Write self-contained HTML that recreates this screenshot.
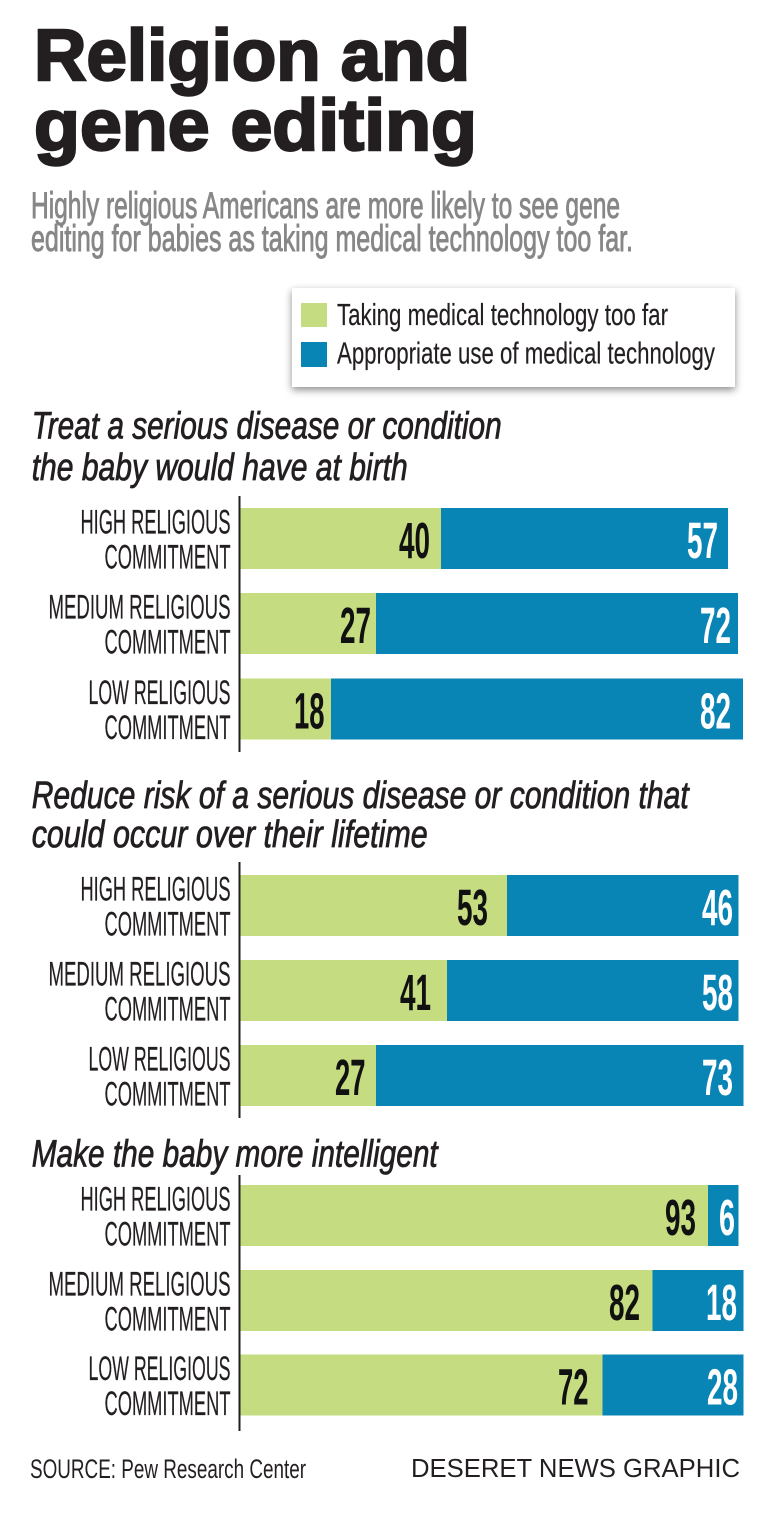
<!DOCTYPE html>
<html>
<head>
<meta charset="utf-8">
<style>
  html, body { margin: 0; padding: 0; background: #ffffff; }
  svg { display: block; }
  .title { font-family: "Liberation Sans", sans-serif; font-weight: bold; fill: #231f20; stroke: #231f20; stroke-width: 2.4; }
  .sub { font-family: "Liberation Sans", sans-serif; fill: #878787; stroke: #878787; stroke-width: 0.9; }
  .head { font-family: "Liberation Sans", sans-serif; font-style: italic; fill: #231f20; stroke: #231f20; stroke-width: 0.8; }
  .lab { font-family: "Liberation Sans", sans-serif; fill: #231f20; stroke: #231f20; stroke-width: 0.2; }
  .num { font-family: "Liberation Sans", sans-serif; font-weight: bold; }
  .blk { fill: #111111; }
  .wht { fill: #ffffff; }
  .leg { font-family: "Liberation Sans", sans-serif; fill: #231f20; stroke: #231f20; stroke-width: 0.2; }
  .foot { font-family: "Liberation Sans", sans-serif; fill: #231f20; }
</style>
</head>
<body>
<svg width="768" height="1521" viewBox="0 0 768 1521" xmlns="http://www.w3.org/2000/svg">
  <defs>
    <filter id="sh" x="-10%" y="-20%" width="120%" height="150%">
      <feDropShadow dx="0" dy="3" stdDeviation="4" flood-color="#000" flood-opacity="0.45"/>
    </filter>
  </defs>
  <rect width="768" height="1521" fill="#ffffff"/>

  <!-- Title -->
  <text class="title" x="34" y="80" font-size="72" textLength="436" lengthAdjust="spacingAndGlyphs">Religion and</text>
  <text class="title" x="34" y="150" font-size="72" textLength="443" lengthAdjust="spacingAndGlyphs">gene editing</text>

  <!-- Subtitle -->
  <text class="sub" x="31" y="218" font-size="37" textLength="589" lengthAdjust="spacingAndGlyphs">Highly religious Americans are more likely to see gene</text>
  <text class="sub" x="31" y="251" font-size="37" textLength="602" lengthAdjust="spacingAndGlyphs">editing for babies as taking medical technology too far.</text>

  <!-- Legend -->
  <rect x="292" y="288" width="443" height="99" fill="#ffffff" filter="url(#sh)"/>
  <rect x="301" y="303" width="26" height="24" fill="#c5dc81"/>
  <rect x="301" y="342" width="26" height="25" fill="#0884b5"/>
  <text class="leg" x="337" y="325" font-size="31" textLength="331" lengthAdjust="spacingAndGlyphs">Taking medical technology too far</text>
  <text class="leg" x="337" y="363.5" font-size="31" textLength="378" lengthAdjust="spacingAndGlyphs">Appropriate use of medical technology</text>

  <!-- Section 1 heading -->
  <text class="head" x="31.7" y="438.3" font-size="38" textLength="470" lengthAdjust="spacingAndGlyphs">Treat a serious disease or condition</text>
  <text class="head" x="31.7" y="480" font-size="38" textLength="376" lengthAdjust="spacingAndGlyphs">the baby would have at birth</text>

  <!-- Section 1 axis -->
  <rect x="238.5" y="496" width="2" height="256" fill="#231f20"/>

  <!-- Section 1 bars -->
  <rect x="240.5" y="508" width="200.5" height="61" fill="#c5dc81"/>
  <rect x="441" y="508" width="287" height="61" fill="#0884b5"/>
  <rect x="240.5" y="593" width="135.5" height="61" fill="#c5dc81"/>
  <rect x="376" y="593" width="362" height="61" fill="#0884b5"/>
  <rect x="240.5" y="678.5" width="90.5" height="61" fill="#c5dc81"/>
  <rect x="331" y="678.5" width="412" height="61" fill="#0884b5"/>

  <!-- Section 1 labels -->
  <text class="lab" x="80.5" y="533.5" font-size="34" textLength="150" lengthAdjust="spacingAndGlyphs">HIGH RELIGIOUS</text>
  <text class="lab" x="104.5" y="568.5" font-size="34" textLength="126" lengthAdjust="spacingAndGlyphs">COMMITMENT</text>
  <text class="lab" x="48.5" y="618.5" font-size="34" textLength="182" lengthAdjust="spacingAndGlyphs">MEDIUM RELIGIOUS</text>
  <text class="lab" x="104.5" y="653.5" font-size="34" textLength="126" lengthAdjust="spacingAndGlyphs">COMMITMENT</text>
  <text class="lab" x="88.5" y="704" font-size="34" textLength="142" lengthAdjust="spacingAndGlyphs">LOW RELIGIOUS</text>
  <text class="lab" x="104.5" y="739" font-size="34" textLength="126" lengthAdjust="spacingAndGlyphs">COMMITMENT</text>

  <!-- Section 1 numbers -->
  <text class="num blk" x="399" y="558" font-size="51" textLength="31" lengthAdjust="spacingAndGlyphs">40</text>
  <text class="num wht" x="687" y="558" font-size="51" textLength="31" lengthAdjust="spacingAndGlyphs">57</text>
  <text class="num blk" x="340" y="643" font-size="51" textLength="31" lengthAdjust="spacingAndGlyphs">27</text>
  <text class="num wht" x="700" y="643" font-size="51" textLength="31" lengthAdjust="spacingAndGlyphs">72</text>
  <text class="num blk" x="294" y="728.5" font-size="51" textLength="30.5" lengthAdjust="spacingAndGlyphs">18</text>
  <text class="num wht" x="700" y="728.5" font-size="51" textLength="31" lengthAdjust="spacingAndGlyphs">82</text>

  <!-- Section 2 heading -->
  <text class="head" x="31.7" y="808" font-size="38" textLength="657" lengthAdjust="spacingAndGlyphs">Reduce risk of a serious disease or condition that</text>
  <text class="head" x="31.7" y="847" font-size="38" textLength="396" lengthAdjust="spacingAndGlyphs">could occur over their lifetime</text>

  <!-- Section 2 axis -->
  <rect x="238.5" y="862" width="2" height="256" fill="#231f20"/>

  <!-- Section 2 bars -->
  <rect x="240.5" y="875" width="266.5" height="61" fill="#c5dc81"/>
  <rect x="507" y="875" width="231.5" height="61" fill="#0884b5"/>
  <rect x="240.5" y="960" width="206.5" height="61" fill="#c5dc81"/>
  <rect x="447" y="960" width="291.5" height="61" fill="#0884b5"/>
  <rect x="240.5" y="1045" width="135.5" height="61" fill="#c5dc81"/>
  <rect x="376" y="1045" width="367.5" height="61" fill="#0884b5"/>

  <!-- Section 2 labels -->
  <text class="lab" x="80.5" y="900.5" font-size="34" textLength="150" lengthAdjust="spacingAndGlyphs">HIGH RELIGIOUS</text>
  <text class="lab" x="104.5" y="935.5" font-size="34" textLength="126" lengthAdjust="spacingAndGlyphs">COMMITMENT</text>
  <text class="lab" x="48.5" y="985.5" font-size="34" textLength="182" lengthAdjust="spacingAndGlyphs">MEDIUM RELIGIOUS</text>
  <text class="lab" x="104.5" y="1020.5" font-size="34" textLength="126" lengthAdjust="spacingAndGlyphs">COMMITMENT</text>
  <text class="lab" x="88.5" y="1070.5" font-size="34" textLength="142" lengthAdjust="spacingAndGlyphs">LOW RELIGIOUS</text>
  <text class="lab" x="104.5" y="1105.5" font-size="34" textLength="126" lengthAdjust="spacingAndGlyphs">COMMITMENT</text>

  <!-- Section 2 numbers -->
  <text class="num blk" x="457" y="925" font-size="51" textLength="31" lengthAdjust="spacingAndGlyphs">53</text>
  <text class="num wht" x="702" y="925" font-size="51" textLength="31" lengthAdjust="spacingAndGlyphs">46</text>
  <text class="num blk" x="400" y="1010" font-size="51" textLength="31" lengthAdjust="spacingAndGlyphs">41</text>
  <text class="num wht" x="702" y="1010" font-size="51" textLength="31" lengthAdjust="spacingAndGlyphs">58</text>
  <text class="num blk" x="335" y="1095" font-size="51" textLength="30.5" lengthAdjust="spacingAndGlyphs">27</text>
  <text class="num wht" x="702" y="1095" font-size="51" textLength="31" lengthAdjust="spacingAndGlyphs">73</text>

  <!-- Section 3 heading -->
  <text class="head" x="31.7" y="1166.5" font-size="38" textLength="406" lengthAdjust="spacingAndGlyphs">Make the baby more intelligent</text>

  <!-- Section 3 axis -->
  <rect x="238.5" y="1175" width="2" height="256" fill="#231f20"/>

  <!-- Section 3 bars -->
  <rect x="240.5" y="1185" width="467.5" height="61" fill="#c5dc81"/>
  <rect x="708" y="1185" width="30.5" height="61" fill="#0884b5"/>
  <rect x="240.5" y="1270" width="412" height="61" fill="#c5dc81"/>
  <rect x="652.5" y="1270" width="91" height="61" fill="#0884b5"/>
  <rect x="240.5" y="1354.5" width="362" height="61" fill="#c5dc81"/>
  <rect x="602.5" y="1354.5" width="141" height="61" fill="#0884b5"/>

  <!-- Section 3 labels -->
  <text class="lab" x="80.5" y="1210.5" font-size="34" textLength="150" lengthAdjust="spacingAndGlyphs">HIGH RELIGIOUS</text>
  <text class="lab" x="104.5" y="1245.5" font-size="34" textLength="126" lengthAdjust="spacingAndGlyphs">COMMITMENT</text>
  <text class="lab" x="48.5" y="1295.5" font-size="34" textLength="182" lengthAdjust="spacingAndGlyphs">MEDIUM RELIGIOUS</text>
  <text class="lab" x="104.5" y="1330.5" font-size="34" textLength="126" lengthAdjust="spacingAndGlyphs">COMMITMENT</text>
  <text class="lab" x="88.5" y="1380" font-size="34" textLength="142" lengthAdjust="spacingAndGlyphs">LOW RELIGIOUS</text>
  <text class="lab" x="104.5" y="1415" font-size="34" textLength="126" lengthAdjust="spacingAndGlyphs">COMMITMENT</text>

  <!-- Section 3 numbers -->
  <text class="num blk" x="665" y="1235" font-size="51" textLength="31" lengthAdjust="spacingAndGlyphs">93</text>
  <text class="num wht" x="719" y="1235" font-size="51" textLength="16" lengthAdjust="spacingAndGlyphs">6</text>
  <text class="num blk" x="609" y="1320" font-size="51" textLength="31" lengthAdjust="spacingAndGlyphs">82</text>
  <text class="num wht" x="706" y="1320" font-size="51" textLength="31" lengthAdjust="spacingAndGlyphs">18</text>
  <text class="num blk" x="558" y="1404.5" font-size="51" textLength="30.5" lengthAdjust="spacingAndGlyphs">72</text>
  <text class="num wht" x="707" y="1404.5" font-size="51" textLength="31" lengthAdjust="spacingAndGlyphs">28</text>

  <!-- Footer -->
  <text class="foot" x="30" y="1478" font-size="27" textLength="276" lengthAdjust="spacingAndGlyphs">SOURCE: Pew Research Center</text>
  <text class="foot" x="411" y="1477" font-size="26" textLength="329" lengthAdjust="spacingAndGlyphs">DESERET NEWS GRAPHIC</text>
</svg>
</body>
</html>
